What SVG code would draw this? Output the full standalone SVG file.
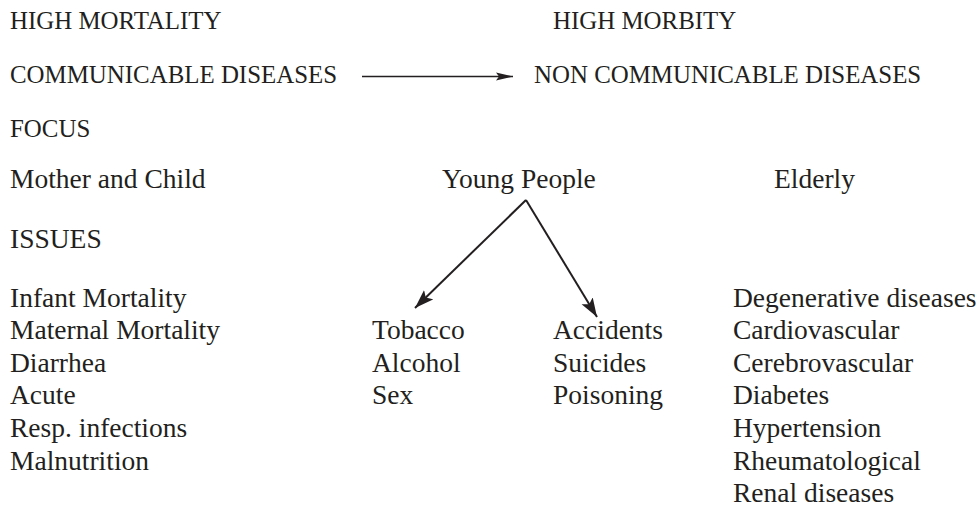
<svg xmlns="http://www.w3.org/2000/svg" width="978" height="506" viewBox="0 0 978 506">
<style>
text{font-family:"Liberation Serif","Times New Roman",serif;fill:#231f20}
.c{font-size:24.9px}
.t{font-size:27.5px}
.ln{stroke:#231f20;fill:none}
</style>
<defs>
<marker id="ah1" markerUnits="userSpaceOnUse" markerWidth="18" markerHeight="10" refX="17" refY="4.5" orient="auto">
<path d="M0,0.5 L17,4.5 L0,8.5 L3,4.5 z" fill="#231f20"/>
</marker>
<marker id="ah2" markerUnits="userSpaceOnUse" markerWidth="20" markerHeight="14" refX="19" refY="7" orient="auto">
<path d="M0,0.5 L19,7 L0,13.5 L4,7 z" fill="#231f20"/>
</marker>
</defs>
<rect width="978" height="506" fill="#fff"/>
<g id="high-mortality"><text class="c" x="10" y="29">HIGH MORTALITY</text></g>
<g id="high-morbity"><text class="c" x="553" y="29">HIGH MORBITY</text></g>
<g id="communicable"><text class="c" x="10" y="83">COMMUNICABLE DISEASES</text></g>
<g id="non-communicable"><text class="c" x="534" y="83">NON COMMUNICABLE DISEASES</text></g>
<g id="focus"><text class="c" x="10" y="137">FOCUS</text></g>
<g id="mother-child"><text class="t" x="10" y="188">Mother and Child</text></g>
<g id="young-people"><text class="t" x="442" y="188">Young People</text></g>
<g id="elderly"><text class="t" x="774" y="188">Elderly</text></g>
<g id="issues"><text class="t" x="10" y="248">ISSUES</text></g>
<g id="mother-child-issues">
<text class="t" x="10" y="306.5">Infant Mortality</text>
<text class="t" x="10" y="339.1">Maternal Mortality</text>
<text class="t" x="10" y="371.7">Diarrhea</text>
<text class="t" x="10" y="404.3">Acute</text>
<text class="t" x="10" y="436.9">Resp. infections</text>
<text class="t" x="10" y="469.5">Malnutrition</text>
</g>
<g id="substances">
<text class="t" x="372" y="339.1">Tobacco</text>
<text class="t" x="372" y="371.7">Alcohol</text>
<text class="t" x="372" y="404.3">Sex</text>
</g>
<g id="injuries">
<text class="t" x="553" y="339.1">Accidents</text>
<text class="t" x="553" y="371.7">Suicides</text>
<text class="t" x="553" y="404.3">Poisoning</text>
</g>
<g id="elderly-issues">
<text class="t" x="733" y="306.5">Degenerative diseases</text>
<text class="t" x="733" y="339.1">Cardiovascular</text>
<text class="t" x="733" y="371.7">Cerebrovascular</text>
<text class="t" x="733" y="404.3">Diabetes</text>
<text class="t" x="733" y="436.9">Hypertension</text>
<text class="t" x="733" y="469.5">Rheumatological</text>
<text class="t" x="733" y="501.5">Renal diseases</text>
</g>
<g id="connectors">
<line class="ln" x1="362" y1="76.5" x2="513" y2="76.5" stroke-width="1.5" marker-end="url(#ah1)"/>
<line class="ln" x1="526" y1="200" x2="415" y2="308" stroke-width="2" marker-end="url(#ah2)"/>
<line class="ln" x1="526" y1="200" x2="597" y2="317" stroke-width="2" marker-end="url(#ah2)"/>
</g>
</svg>
